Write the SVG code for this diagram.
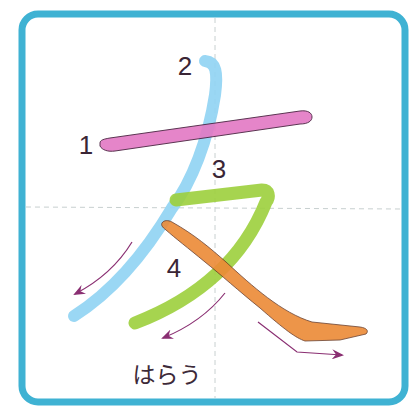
<svg xmlns="http://www.w3.org/2000/svg" width="415" height="416" viewBox="0 0 415 416">
<defs>
<style>
.num{font-family:"Liberation Sans","DejaVu Sans",sans-serif;font-size:26px;fill:#3a2535}
.guide{stroke:#c8d0d0;stroke-width:1;stroke-dasharray:5 4;fill:none}
.arrow{stroke:#8a2f72;stroke-width:1.2;fill:none;marker-end:url(#ah)}
</style>
<marker id="ah" viewBox="0 0 12 10" refX="10" refY="5" markerWidth="12" markerHeight="10" markerUnits="userSpaceOnUse" orient="auto">
<path d="M0,0 L12,5 L0,10 L4,5 Z" fill="#8a2f72"/>
</marker>
</defs>
<rect x="0" y="0" width="415" height="416" fill="#ffffff"/>
<rect x="22" y="14" width="383" height="388" rx="16" fill="#ffffff" stroke="#3fb2d3" stroke-width="7"/>
<g id="guides">
<line class="guide" x1="215" y1="18" x2="215" y2="398"/>
<line class="guide" x1="26" y1="207" x2="401" y2="209"/>
</g>
<g id="stroke2" opacity="0.9">
<path d="M205,61 C216,62 218,72 215,95 C208,140 192,182 172,208 C147,250 115,290 74,316" fill="none" stroke="#8fd3f3" stroke-width="12" stroke-linecap="round" stroke-linejoin="round"/>
</g>
<g id="stroke1" opacity="0.9">
<path d="M100,143 C100,140 104,139 110,138 L300,111 C308,110 312,113 312,117 C312,121 308,124 300,124 L115,151 C108,152 102,150 100,146 Z" fill="#e378c4" stroke="#4a2040" stroke-width="1"/>
</g>
<g id="stroke3" opacity="0.9">
<path d="M176,200 L262,190 C269,190 270,197 266,202 C246,252 205,296 135,323" fill="none" stroke="#9ccf3c" stroke-width="13" stroke-linecap="round" stroke-linejoin="round"/>
</g>
<g id="stroke4" opacity="0.9">
<path d="M162,223 C164,220 168,220 172,222 C195,235 210,248 226,262 C252,286 282,313 312,322 L360,327 C367,328 369,331 366,334 L340,340 L305,341 C296,338 285,330 260,308 C240,292 220,274 205,262 C188,248 175,238 166,230 C162,227 161,225 162,223 Z" fill="#ec8a36" stroke="#5a3020" stroke-width="0.8"/>
</g>
<g id="labels">
<text class="num" x="185" y="75" text-anchor="middle">2</text>
<text class="num" x="86" y="154" text-anchor="middle">1</text>
<text class="num" x="219" y="178" text-anchor="middle">3</text>
<text class="num" x="174" y="277" text-anchor="middle">4</text>
<text x="167" y="383" text-anchor="middle" font-family="'Noto Sans CJK JP',sans-serif" font-size="23" fill="#3d2a38">はらう</text>
</g>
<g id="connectors">
<path class="arrow" d="M132,242 C118,265 98,282 75,294"/>
<path class="arrow" d="M225,293 C210,312 190,327 163,338"/>
<path class="arrow" d="M258,322 L297,352 L342,355"/>
</g>
</svg>
